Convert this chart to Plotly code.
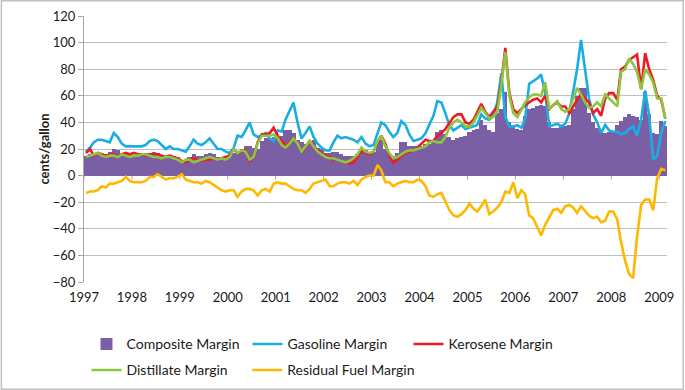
import pandas as pd
import plotly.graph_objects as go

# ---------------- data (cents/gallon, monthly Jan-1997 .. Feb-2009) ----------------
start_month = "1997-01-01"
years = [str(y) for y in range(1997, 2010)]

composite = [
    15, 16, 15, 17, 16, 16, 18, 20, 19, 16, 16, 16,   # 1997
    15, 16, 16, 17, 17, 18, 17, 15, 15, 14, 15, 14,   # 1998
    11, 10, 14, 16, 15, 15, 16, 17, 16, 14, 14, 13,   # 1999
    17, 17, 18, 20, 22, 22, 21, 20, 26, 28, 28, 29,   # 2000
    29, 30, 34, 34, 32, 27, 25, 24, 26, 27, 21, 20,   # 2001
    17, 17, 18, 18, 16, 15, 15, 15, 16, 19, 19, 17,   # 2002
    18, 25, 27, 20, 17, 15, 17, 25, 25, 22, 22, 22,   # 2003
    22, 24, 24, 27, 33, 34, 31, 29, 27, 28, 29, 30,   # 2004
    33, 34, 35, 42, 38, 34, 33, 47, 50, 63, 40, 37,   # 2005
    35, 34, 45, 50, 51, 52, 53, 52, 40, 36, 36, 37,   # 2006
    37, 38, 50, 60, 66, 66, 47, 40, 36, 34, 32, 33,   # 2007
    33, 38, 41, 44, 46, 45, 44, 42, 63, 46, 32, 31,   # 2008
    41, 37,                                           # 2009
]
gasoline = [
    18, 21, 25, 27, 27, 26, 25, 32, 29, 24, 22, 22,
    22, 22, 22, 23, 26, 27, 26, 23, 20, 22, 20, 20,
    19, 18, 22, 27, 24, 23, 25, 28, 24, 20, 20, 18,
    17, 21, 30, 29, 34, 40, 31, 29, 30, 32, 28, 26,
    34, 33, 42, 49, 55, 40, 28, 32, 37, 29, 24, 21,
    19, 19, 25, 30, 28, 29, 28, 27, 25, 29, 24, 22,
    23, 32, 40, 38, 33, 29, 32, 41, 38, 31, 26, 27,
    28, 32, 38, 45, 56, 55, 47, 38, 34, 36, 38, 35,
    36, 37, 38, 46, 43, 42, 45, 55, 77, 44, 37, 37,
    38, 36, 43, 69, 71, 73, 76, 62, 37, 38, 39, 37,
    39, 47, 62, 80, 102, 78, 58, 46, 40, 32, 38, 34,
    33, 33, 31, 32, 35, 37, 30, 42, 64, 45, 12, 15,
    32, 41,
]
kerosene = [
    17, 20, 15, 17, 16, 15, 16, 16, 15, 16, 17, 16,
    17, 16, 16, 15, 16, 16, 16, 15, 14, 15, 14, 13,
    11, 10, 12, 13, 12, 11, 12, 12, 13, 12, 13, 14,
    15, 20, 17, 18, 19, 11, 14, 25, 31, 31, 32, 36,
    30, 26, 22, 25, 28, 24, 18, 21, 26, 23, 19, 17,
    15, 14, 12, 12, 11, 10, 9, 10, 14, 19, 17, 16,
    18, 25, 30, 24, 15, 10, 12, 15, 17, 18, 19, 21,
    24, 27, 26, 26, 30, 32, 35, 40, 44, 46, 46, 40,
    39, 42, 48, 54, 48, 44, 48, 52, 70, 96, 62, 50,
    47, 50, 53, 55, 57, 58, 55, 60, 50, 53, 55, 52,
    52, 47, 52, 57, 61, 58, 55, 47, 50, 45, 58, 62,
    62, 57, 80, 82, 87, 89, 91, 65, 92, 80, 72, 60,
    57, 43,
]
distillate = [
    14, 15, 16, 17, 15, 14, 15, 15, 14, 16, 15, 14,
    15, 15, 16, 16, 15, 14, 14, 13, 14, 14, 13, 12,
    10, 12, 12, 10, 11, 12, 13, 14, 13, 12, 13, 12,
    14, 20, 17, 19, 18, 12, 14, 24, 30, 30, 30, 31,
    28, 23, 21, 24, 28, 24, 18, 22, 26, 22, 18, 16,
    14, 13, 13, 12, 11, 10, 11, 13, 16, 21, 18, 17,
    18, 26, 30, 22, 17, 13, 14, 16, 18, 19, 19, 20,
    21, 22, 25, 26, 25, 25, 29, 36, 40, 42, 40, 37,
    37, 40, 45, 51, 47, 43, 44, 48, 68, 93, 60, 47,
    44, 50, 55, 59, 61, 61, 60, 70, 50, 53, 56, 50,
    48, 50, 57, 66, 61, 55, 51, 52, 55, 52, 61, 58,
    55, 52, 78, 80, 88, 84, 78, 65, 80, 76, 70, 58,
    58, 43,
]
residual = [
    -13, -12, -12, -11, -8, -9, -6, -6, -5, -4, -1, -4,
    -5, -5, -5, -4, -1, -1, 1, -1, -3, -2, -2, -1,
    1, -3, -4, -5, -5, -6, -4, -5, -7, -9, -11, -12,
    -11, -11, -16, -12, -10, -10, -11, -15, -11, -10, -12, -6,
    -5, -6, -6, -8, -10, -11, -11, -13, -10, -6, -5, -4,
    -3, -8, -8, -6, -5, -5, -6, -4, -7, -3, -1, 0,
    0, 8, 4, -5, -5, -8, -6, -5, -4, -5, -5, -3,
    -4, -8, -15, -16, -14, -13, -19, -26, -30, -31, -29, -26,
    -21, -25, -27, -23, -18, -29, -27, -24, -20, -12, -13, -5,
    -17, -11, -14, -30, -32, -38, -45, -37, -31, -26, -25, -28,
    -23, -22, -24, -28, -23, -27, -30, -32, -31, -35, -34, -27,
    -27, -33, -50, -64, -74, -77, -46, -22, -18, -18, -26, -2,
    5, 4,
]

# ---------------- figure ----------------
months = pd.date_range(start_month, periods=len(composite), freq="MS") + pd.Timedelta(days=15)
bar_w = 31 * 24 * 3600 * 1000
FONT = "Lato, 'Open Sans', sans-serif"
GRID = "#BFBFBF"
W, H = 685, 390
ML, MR, MT, MB = 83.5, 17.5, 16, 108.3
PW, PH = W - ML - MR, H - MT - MB

fig = go.Figure()
fig.add_trace(go.Bar(x=months, y=composite, name="Composite Margin", width=bar_w,
                     marker=dict(color="#7B5FA5", line=dict(width=0)), legend="legend"))
series = [
    ("Gasoline Margin", gasoline, "#1AADE4", "legend"),
    ("Kerosene Margin", kerosene, "#ED1C24", "legend"),
    ("Distillate Margin", distillate, "#8CC63F", "legend2"),
    ("Residual Fuel Margin", residual, "#FFB800", "legend3"),
]
for name, vals, col, leg in series:
    fig.add_trace(go.Scatter(x=months, y=vals, name=name, mode="lines",
                             line=dict(color=col, width=2.6), legend=leg))

year_starts = [pd.Timestamp(f"{y}-01-01") for y in years]

# small tick marks of the category axis, which crosses at zero
for ys in year_starts:
    fig.add_shape(type="line", xref="x", yref="y", x0=ys, x1=ys, y0=0, y1=-3,
                  line=dict(color="#A6A6A6", width=1), layer="below")

# outer chart border
fig.add_shape(type="rect", xref="paper", yref="paper",
              x0=-(ML - 0.75) / PW, x1=1 + (MR - 1.25) / PW,
              y0=-(MB - 1.25) / PH, y1=1 + (MT - 0.75) / PH,
              line=dict(color="#BFBFBF", width=1.5))

def px_x(px):
    return (px - ML) / PW

def px_y(py):
    return (H - MB - py) / PH

leg_common = dict(orientation="h", xanchor="left", yanchor="top",
                  entrywidth=116, entrywidthmode="pixels",
                  font=dict(family=FONT, size=14, color="#1a1a1a"),
                  itemwidth=30, traceorder="normal", bgcolor="rgba(0,0,0,0)")
leg_single = dict(orientation="h", xanchor="left", yanchor="top",
                  font=dict(family=FONT, size=14, color="#1a1a1a"),
                  itemwidth=30, bgcolor="rgba(0,0,0,0)")

fig.update_layout(
    width=W, height=H,
    margin=dict(l=ML, r=MR, t=MT, b=MB, autoexpand=False),
    paper_bgcolor="white", plot_bgcolor="white",
    bargap=0,
    font=dict(family=FONT, size=13, color="#1a1a1a"),
    showlegend=True,
    legend=dict(x=px_x(86), y=px_y(328), **leg_common),
    legend2=dict(x=px_x(86), y=px_y(354), **leg_single),
    legend3=dict(x=px_x(247), y=px_y(354), **leg_single),
    annotations=[dict(text="<b>cents/gallon</b>", xref="paper", yref="paper",
                      x=px_x(33), y=0.5, textangle=-90, showarrow=False,
                      font=dict(family=FONT, size=13, color="#1a1a1a"))],
)
fig.update_xaxes(type="date", range=["1997-01-01", "2009-03-01"],
                 tickvals=year_starts, ticktext=years,
                 ticks="outside", ticklen=3, tickcolor="rgba(0,0,0,0)",
                 showgrid=False, showline=False, zeroline=False,
                 tickfont=dict(size=13), automargin=False)
fig.update_yaxes(range=[-80, 120], dtick=20, showgrid=True, gridcolor=GRID, gridwidth=1.3,
                 zeroline=True, zerolinecolor=GRID, zerolinewidth=1.3,
                 showline=True, linecolor="#A6A6A6", linewidth=1,
                 ticks="outside", ticklen=5, tickcolor="#A6A6A6",
                 tickfont=dict(size=13), automargin=False)

fig.write_html("out.html", config={"displayModeBar": False},
               post_script="document.body.style.margin='0';")
